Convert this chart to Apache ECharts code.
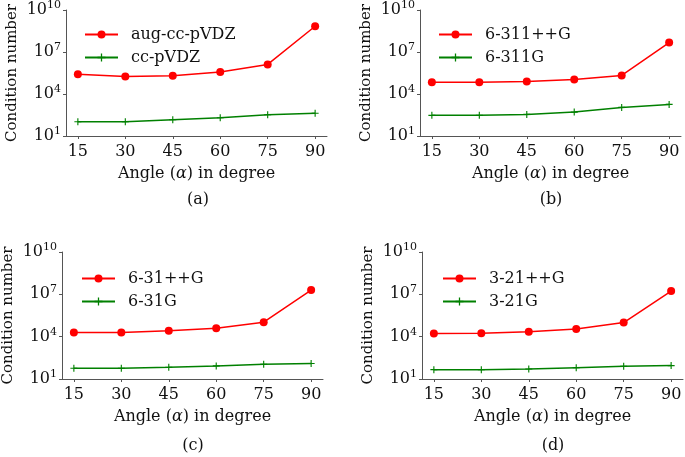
<!DOCTYPE html>
<html><head><meta charset="utf-8">
<script src="https://cdn.jsdelivr.net/npm/echarts@6/dist/echarts.min.js"></script>
<style>html,body{margin:0;padding:0;background:#fff}#c{width:685px;height:457px}</style>
</head><body><div id="c"></div>
<script>
const angles = [15, 30, 45, 60, 75, 90];
const yTicks = [1e1, 1e4, 1e7, 1e10];

const augCcPVDZ = [2.6e5, 1.8e5, 2.0e5, 3.7e5, 1.3e6, 6.9e8];
const ccPVDZ    = [105, 105, 145, 200, 330, 420];
const g6311ppG  = [6.8e4, 6.8e4, 7.9e4, 1.1e5, 2.1e5, 4.7e7];
const g6311G    = [300, 300, 350, 510, 1100, 1800];
const g631ppG   = [1.95e4, 2.0e4, 2.6e4, 4.0e4, 1.07e5, 2.0e7];
const g631G     = [58, 58, 68, 85, 112, 126];
const g321ppG   = [1.66e4, 1.74e4, 2.2e4, 3.5e4, 1.0e5, 1.7e7];
const g321G     = [46, 46, 51, 63, 79, 89];

const panels = [
  {red: 'aug-cc-pVDZ', redData: augCcPVDZ, green: 'cc-pVDZ', greenData: ccPVDZ, caption: '(a)'},
  {red: '6-311++G', redData: g6311ppG, green: '6-311G', greenData: g6311G, caption: '(b)'},
  {red: '6-31++G', redData: g631ppG, green: '6-31G', greenData: g631G, caption: '(c)'},
  {red: '3-21++G', redData: g321ppG, green: '3-21G', greenData: g321G, caption: '(d)'}
];

const grids = [
  {left: 66, top: 10, width: 261, height: 126},
  {left: 420, top: 10, width: 261, height: 126},
  {left: 62, top: 252, width: 261, height: 127},
  {left: 422, top: 252, width: 261, height: 127}
];
const legendPos = [
  {left: 79, top: 21},
  {left: 433, top: 21},
  {left: 76, top: 265},
  {left: 437, top: 265}
];
const captionPos = [[198, 200], [551, 200], [193, 446], [553, 446]];

const FONT = 'DejaVu Serif';
const axisColor = '#555';
const textColor = '#111';
const plusPath = 'path://M4.2,0H5.8V4.2H10V5.8H5.8V10H4.2V5.8H0V4.2H4.2Z';

const option = {
  animation: false,
  backgroundColor: '#fff',
  textStyle: {fontFamily: FONT},
  grid: grids.map(g => Object.assign({containLabel: false, outerBoundsMode: 'none'}, g)),
  xAxis: grids.map((g, i) => ({
    gridIndex: i, type: 'value', min: 11.25, max: 93.75,
    name: 'Angle ({i|\u03b1}) in degree', nameLocation: 'middle', nameGap: 30,
    nameTextStyle: {fontFamily: FONT, fontSize: 16, color: textColor,
      rich: {i: {fontFamily: FONT, fontSize: 16, fontStyle: 'italic', color: textColor}}},
    axisLine: {show: true, lineStyle: {color: axisColor, width: 1}},
    axisTick: {show: true, customValues: angles, length: 3, lineStyle: {color: axisColor}},
    axisLabel: {customValues: angles, fontFamily: FONT, fontSize: 16, color: textColor, margin: 8},
    splitLine: {show: false}
  })),
  yAxis: grids.map((g, i) => ({
    gridIndex: i, type: 'log', logBase: 10, min: 10, max: 1e10,
    name: 'Condition number', nameLocation: 'middle', nameGap: 46,
    nameTextStyle: {fontFamily: FONT, fontSize: 15, color: textColor},
    axisLine: {show: true, lineStyle: {color: axisColor, width: 1}},
    axisTick: {show: true, customValues: yTicks, length: 3, lineStyle: {color: axisColor}},
    axisLabel: {
      customValues: yTicks, margin: 5, color: textColor,
      formatter: v => '{b|10}{s|' + Math.round(Math.log10(v)) + '}',
      rich: {
        b: {fontFamily: FONT, fontSize: 16, color: textColor},
        s: {fontFamily: FONT, fontSize: 11, color: textColor, padding: [0, 0, 10, 0]}
      }
    },
    splitLine: {show: false}
  })),
  legend: panels.map((p, i) => ({
    data: [p.red, p.green], orient: 'vertical',
    left: legendPos[i].left, top: legendPos[i].top,
    itemWidth: 33, itemHeight: 10, itemGap: 6,
    textStyle: {fontFamily: FONT, fontSize: 16, color: textColor, lineHeight: 17, padding: [0, 0, 0, 8]}
  })),
  series: [],
  graphic: panels.map((p, i) => ({
    type: 'text', x: captionPos[i][0], y: captionPos[i][1],
    style: {text: p.caption, font: '16px "DejaVu Serif"', fill: textColor, textAlign: 'center', textVerticalAlign: 'middle'}
  }))
};

panels.forEach((p, i) => {
  option.series.push({
    name: p.red, type: 'line', xAxisIndex: i, yAxisIndex: i,
    data: angles.map((a, k) => [a, p.redData[k]]),
    symbol: 'circle', symbolSize: 8,
    lineStyle: {color: '#ff0000', width: 1.5},
    itemStyle: {color: '#ff0000'}
  });
  option.series.push({
    name: p.green, type: 'line', xAxisIndex: i, yAxisIndex: i,
    data: angles.map((a, k) => [a, p.greenData[k]]),
    symbol: plusPath, symbolSize: 7,
    lineStyle: {color: '#008000', width: 1.5},
    itemStyle: {color: '#008000'}
  });
});

const chart = echarts.init(document.getElementById('c'), null, {renderer: 'canvas'});
chart.setOption(option);
</script></body></html>
